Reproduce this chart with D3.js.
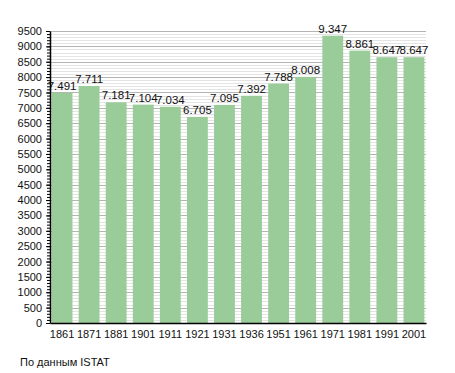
<!DOCTYPE html>
<html>
<head>
<meta charset="utf-8">
<script src="https://cdn.jsdelivr.net/npm/d3@7"></script>
<style>
  body { margin: 0; background: #fff; }
  text { font-family: "Liberation Sans", Arial, sans-serif; fill: #111; }
</style>
</head>
<body>
<div id="chart"></div>
<script>
const years = ['1861', '1871', '1881', '1901', '1911', '1921', '1931', '1936', '1951', '1961', '1971', '1981', '1991', '2001'];
const population = [7491, 7711, 7181, 7104, 7034, 6705, 7095, 7392, 7788, 8008, 9347, 8861, 8647, 8647];
const yTicks = d3.range(0, 9501, 500);
const sourceNote = 'По данным  ISTAT';

const width = 455, height = 373;
const margin = {top: 31, right: 29, bottom: 50, left: 50};
const innerWidth = width - margin.left - margin.right;
const innerHeight = height - margin.top - margin.bottom;

const svg = d3.select('#chart').append('svg')
  .attr('width', width)
  .attr('height', height);

const g = svg.append('g')
  .attr('transform', `translate(${margin.left}, ${margin.top})`);

const xScale = d3.scaleBand()
  .domain(years)
  .range([0, innerWidth])
  .paddingInner(0.23)
  .paddingOuter(0.06);

const yScale = d3.scaleLinear()
  .domain([0, 9500])
  .range([innerHeight, 0]);

// grid lines: minor every 100, major every 500
g.append('g')
  .selectAll('line')
  .data(d3.range(100, 9501, 100).filter(v => v % 500 !== 0))
  .join('line')
  .attr('x1', 0).attr('x2', innerWidth)
  .attr('y1', d => Math.round(yScale(d)) + 0.5)
  .attr('y2', d => Math.round(yScale(d)) + 0.5)
  .attr('stroke', '#e4e4e4');

g.append('g')
  .selectAll('line')
  .data(yTicks.filter(v => v > 0))
  .join('line')
  .attr('x1', 0).attr('x2', innerWidth)
  .attr('y1', d => Math.round(yScale(d)) + 0.5)
  .attr('y2', d => Math.round(yScale(d)) + 0.5)
  .attr('stroke', '#b4b4b4');

// bars
g.selectAll('rect')
  .data(population)
  .join('rect')
  .attr('x', (d, i) => xScale(years[i]))
  .attr('y', d => yScale(d))
  .attr('width', xScale.bandwidth())
  .attr('height', d => innerHeight - yScale(d))
  .attr('fill', '#99cc99');

// value labels
g.selectAll('.val')
  .data(population)
  .join('text')
  .attr('class', 'val')
  .attr('x', (d, i) => xScale(years[i]) + xScale.bandwidth() / 2)
  .attr('y', d => yScale(d) - 3)
  .attr('text-anchor', 'middle')
  .attr('font-size', 11.5)
  .text(d => d3.format(',')(d).replace(',', '.'));

// minor y ticks
g.append('g')
  .call(d3.axisLeft(yScale)
    .tickValues(d3.range(0, 9501, 100))
    .tickSize(3)
    .tickFormat(''))
  .call(a => a.select('.domain').remove())
  .call(a => a.selectAll('text').remove())
  .call(a => a.selectAll('line').attr('stroke', '#000'));

// major y axis
const yAxisG = g.append('g')
  .call(d3.axisLeft(yScale)
    .tickValues(yTicks)
    .tickSize(4)
    .tickSizeOuter(0)
    .tickFormat(d3.format('d')));
yAxisG.selectAll('text').attr('font-size', 11).attr('dx', '-1');
yAxisG.select('.domain').attr('stroke', '#000').attr('stroke-width', 1.5);

// x axis
const xAxisG = g.append('g')
  .attr('transform', `translate(0, ${innerHeight})`)
  .call(d3.axisBottom(xScale).tickSize(0).tickSizeOuter(0));
xAxisG.selectAll('text').attr('font-size', 11).attr('dy', '1.1em');
xAxisG.select('.domain').attr('stroke', '#000').attr('stroke-width', 1.5);

svg.selectAll('.tick text').attr('fill', '#111');

svg.append('text')
  .attr('x', 20)
  .attr('y', 366)
  .attr('font-size', 11)
  .text(sourceNote);
</script>
</body>
</html>
